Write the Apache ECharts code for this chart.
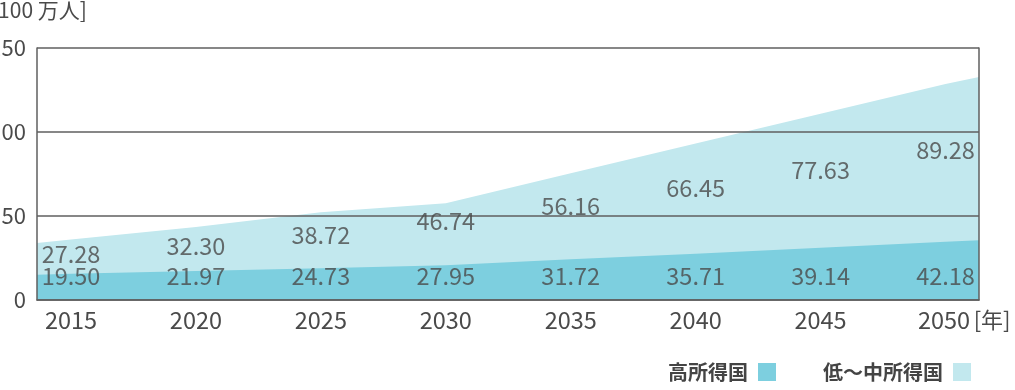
<!DOCTYPE html>
<html>
<head>
<meta charset="utf-8">
<script src="https://cdn.jsdelivr.net/npm/echarts@6.0.0/dist/echarts.min.js"></script>
<style>
html,body{margin:0;padding:0;background:#fff;}
#chart{width:1015px;height:390px;}
</style>
</head>
<body>
<div id="chart"></div>
<script>
// ---- data ----
const years = [2015, 2020, 2025, 2030, 2035, 2040, 2045, 2050];
// printed values [100万人]
const highIncome   = [19.50, 21.97, 24.73, 27.95, 31.72, 35.71, 39.14, 42.18];
const lowMidIncome = [27.28, 32.30, 38.72, 46.74, 56.16, 66.45, 77.63, 89.28];
// drawn band tops (value units), at each year
const highBandTop  = [15.6, 17.3, 18.9, 20.7, 24.2, 27.6, 31.1, 34.6];
const totalBandTop = [36.0, 43.5, 52.2, 57.6, 75.4, 93.2, 110.8, 128.6];
// band tops at the left / right frame edges
const highBandEdges  = [15.1, 35.5];
const totalBandEdges = [33.9, 132.7];
const yTicks = [0, 50, 100, 150];
const seriesNames = ['高所得国', '低～中所得国'];
const yUnit = '[100 万人]';
const xUnit = '[年]';

// ---- styles / layout ----
const FONT = '"Noto Sans CJK JP", "Noto Sans", sans-serif';
const DARK = '#7dcfdf';
const LIGHT = '#c2e8ee';
const LINE = '#5f5f5f';
const TEXT = '#4a4a4a';
const X_MIN = 2013.64, X_MAX = 2051.34;   // frame extends past first/last year
const DARK_LABEL_ROW = 14.4;               // row where the high-income labels sit

const highArea = [[X_MIN, highBandEdges[0]]]
  .concat(years.map((y, i) => [y, highBandTop[i]]))
  .concat([[X_MAX, highBandEdges[1]]]);
const totalArea = [[X_MIN, totalBandEdges[0]]]
  .concat(years.map((y, i) => [y, totalBandTop[i]]))
  .concat([[X_MAX, totalBandEdges[1]]]);

const lastYear = years[years.length - 1];

const chart = echarts.init(document.getElementById('chart'), null, {renderer: 'canvas'});
chart.setOption({
  animation: false,
  backgroundColor: '#fff',
  textStyle: {fontFamily: FONT},
  grid: [
    {left: 37, right: 36, top: 48, bottom: 90, outerBoundsMode: 'none'},
    {left: 71, right: 69.5, top: 48, bottom: 90, outerBoundsMode: 'none'}
  ],
  xAxis: [
    {
      type: 'value', gridIndex: 0, min: X_MIN, max: X_MAX, z: 5,
      axisLine: {show: true, lineStyle: {color: LINE, width: 1.5}},
      axisTick: {show: false}, axisLabel: {show: false}, splitLine: {show: false}
    },
    {
      type: 'value', gridIndex: 1, min: years[0], max: lastYear, interval: 5,
      axisLine: {show: false}, axisTick: {show: false}, splitLine: {show: false},
      axisLabel: {
        show: true, fontSize: 23.5, color: TEXT, fontFamily: FONT, margin: 8,
        formatter: v => v === lastYear ? '{pad|}' + v + '{u|' + xUnit + '}' : String(v),
        rich: {
          pad: {width: 38},
          u: {width: 38, align: 'left', fontSize: 22, color: TEXT, fontFamily: FONT, padding: [0, 0, 0, 3]}
        }
      }
    }
  ],
  yAxis: [
    {
      type: 'value', gridIndex: 0, min: yTicks[0], max: yTicks[yTicks.length - 1], interval: 50, z: 5,
      axisLine: {show: true, lineStyle: {color: LINE, width: 1.5}},
      axisTick: {show: false},
      axisLabel: {show: true, fontSize: 22, color: TEXT, fontFamily: FONT, margin: 11},
      splitLine: {show: true, lineStyle: {color: LINE, width: 1.5}}
    },
    {
      type: 'value', gridIndex: 0, position: 'right', min: yTicks[0], max: yTicks[yTicks.length - 1], z: 5,
      axisLine: {show: true, lineStyle: {color: LINE, width: 1.5}},
      axisTick: {show: false}, axisLabel: {show: false}, splitLine: {show: false}
    },
    {
      type: 'value', gridIndex: 1, min: 0, max: 150, show: false
    }
  ],
  legend: {
    right: 39, top: 357, align: 'right', orient: 'horizontal',
    itemWidth: 18, itemHeight: 18, itemGap: 47, icon: 'rect',
    textStyle: {fontSize: 20, fontWeight: 'bold', color: '#444', fontFamily: FONT, padding: [0, 5, 0, 0]},
    data: seriesNames
  },
  graphic: [
    {type: 'text', x: -9, y: 0,
     style: {text: yUnit, fontSize: 21, fill: TEXT, fontFamily: FONT}}
  ],
  series: [
    {
      name: seriesNames[1], type: 'line', xAxisIndex: 0, yAxisIndex: 0, z: 1,
      color: LIGHT, data: totalArea, symbol: 'none', silent: true,
      lineStyle: {width: 0}, areaStyle: {color: LIGHT, opacity: 1}
    },
    {
      name: seriesNames[0], type: 'line', xAxisIndex: 0, yAxisIndex: 0, z: 2,
      color: DARK, data: highArea, symbol: 'none', silent: true,
      lineStyle: {width: 0}, areaStyle: {color: DARK, opacity: 1}
    },
    {
      type: 'scatter', xAxisIndex: 0, yAxisIndex: 0, z: 6, symbolSize: 0, silent: true,
      data: years.map((y, i) => [y, lowMidIncome[i]]),
      label: {show: true, position: 'inside', fontSize: 23.5, color: TEXT, fontFamily: FONT,
              formatter: p => p.value[1].toFixed(2)}
    },
    {
      type: 'scatter', xAxisIndex: 0, yAxisIndex: 0, z: 6, symbolSize: 0, silent: true,
      data: years.map((y, i) => [y, DARK_LABEL_ROW]),
      label: {show: true, position: 'inside', fontSize: 23.5, color: TEXT, fontFamily: FONT,
              formatter: p => highIncome[p.dataIndex].toFixed(2)}
    }
  ]
});
</script>
</body>
</html>
